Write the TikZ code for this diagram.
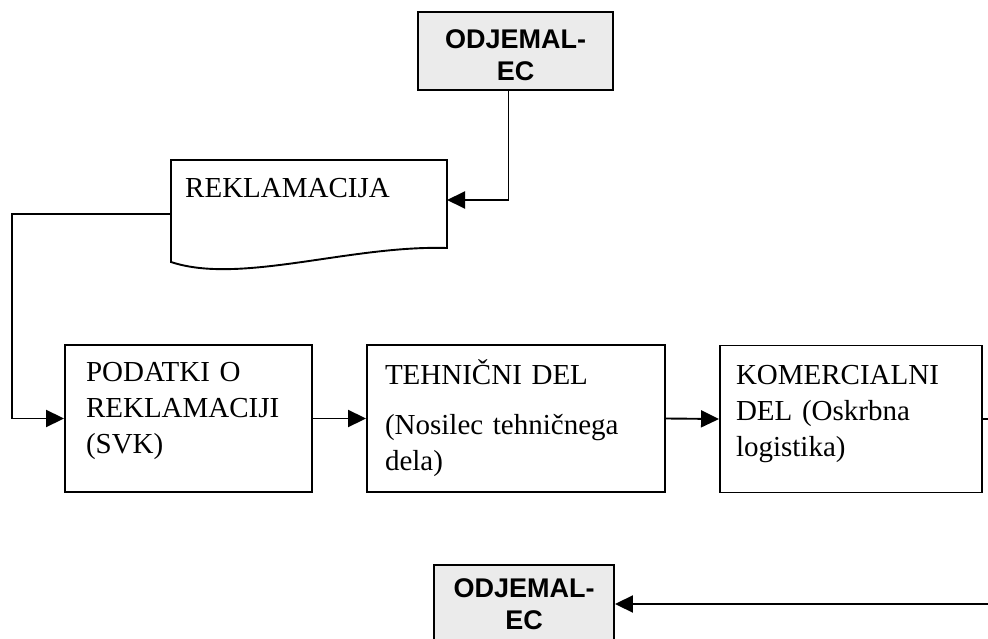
\documentclass[tikz,border=0pt]{standalone}
\usepackage{fontspec}
\setmainfont{Liberation Serif}
\newfontfamily\hv{Liberation Sans}
\usetikzlibrary{arrows.meta}
\begin{document}
\begin{tikzpicture}[x=1pt,y=-1pt,
  ln/.style={line width=1.9pt},
  arr/.style={ln,-{Triangle[length=18pt,width=17pt]}},
  procbox/.style={draw,line width=1.9pt,minimum height=147pt,align=left,inner xsep=0pt,
     font=\fontsize{29}{36}\selectfont},
  custbox/.style={draw,line width=1.9pt,fill=black!8,align=center,inner sep=0pt,
     font=\hv\bfseries\fontsize{27}{32}\selectfont},
  doctext/.style={anchor=west,inner sep=0pt,font=\fontsize{29}{36}\selectfont}]
\useasboundingbox (0,0) rectangle (988,639);
\clip (0,0) rectangle (988,639);
\fill[white] (0,0) rectangle (988,639);
% customer boxes
\node[custbox,minimum width=195pt,minimum height=78pt] (o1) at (515.5,51) {ODJEMAL-\\EC\\[-40pt]\mbox{}};
\node[custbox,minimum width=180pt,minimum height=78pt] (o2) at (524,604) {ODJEMAL-\\EC};
% document shape
\draw[ln,fill=white] (171,262) -- (171,160) -- (447,160) -- (447,248)
   .. controls (350,245) and (240,285) .. (171,262) -- cycle;
\node[doctext] (rek) at (185,188) {REKLAMACIJA};
\coordinate (rekin) at (447,200);
\coordinate (rekout) at (171,214);
% process boxes
\node[procbox,minimum width=247pt,text width=205pt] (b1) at (188.5,418.5)
  {PODATKI O\\REKLAMACIJI\\(SVK)\\[-14pt]\mbox{}};
\node[procbox,minimum width=298pt,text width=262pt] (b2) at (516,418.5)
  {TEHNIČNI DEL\\[14pt](Nosilec tehničnega\\dela)};
\node[procbox,minimum width=262pt,text width=230pt] (b3) at (851,419)
  {KOMERCIALNI\\DEL (Oskrbna\\logistika)\\[-20pt]\mbox{}};
% connectors
\draw[arr] ([xshift=-7pt]o1.south) |- (rekin);
\draw[arr] (rekout) -- ++(-159,0) |- (b1.west);
\draw[arr] (b1.east) -- (b2.west);
\draw[arr] (b2.east) -- (b3.west);
\draw[arr] (b3.east) -- ++(15,0) |- (o2.east);
\end{tikzpicture}
\end{document}
